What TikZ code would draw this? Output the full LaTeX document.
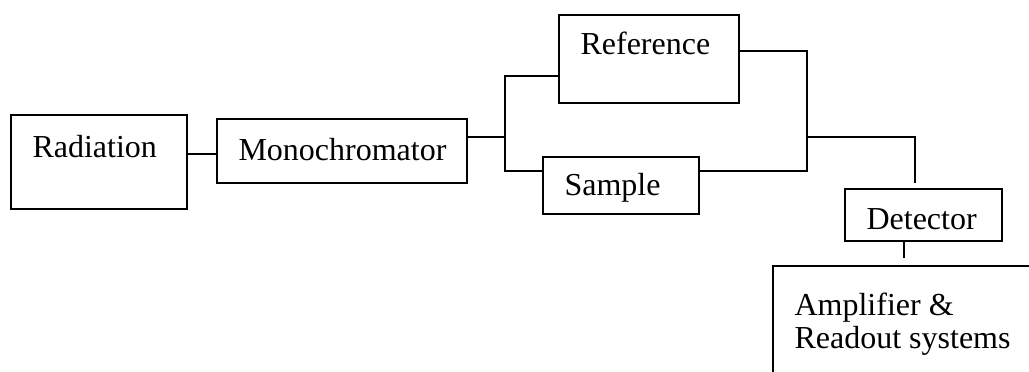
\documentclass[tikz,border=0pt]{standalone}
\usepackage{fontspec}
\setmainfont{Liberation Serif}
\usepackage{tikz}

\begin{document}
\begin{tikzpicture}[x=0.375pt,y=-0.375pt]
    \tikzset{block/.style={rectangle, draw, line width=0.75pt, inner sep=0pt},
             caption/.style={anchor=base west, inner sep=0pt, font=\fontsize{12}{14}\selectfont},
             wire/.style={line width=0.75pt}};
\useasboundingbox (0,0) rectangle (1029,371);
\clip (0,0) rectangle (1029,371);
%%
\node (rad) at (99,162) [block, minimum width=66pt, minimum height=35.25pt] {};
  \node (mono) at (342,151) [block, minimum width=93.75pt, minimum height=24pt] {};
  \node (ref) at (649,59) [block, minimum width=67.5pt, minimum height=33pt] {};
  \node (smp) at (621,185.5) [block, minimum width=58.5pt, minimum height=21.375pt] {};
  \node (det) at (923.5,215) [block, minimum width=58.875pt, minimum height=19.5pt] {};
  \node (amp) at (909,325.5) [block, minimum width=102pt, minimum height=44.625pt] {};

  \node (radtxt) at (32,157) [caption] {Radiation};
  \node (monotxt) at (238,160) [caption] {Monochromator};
  \node (reftxt) at (580,54) [caption] {Reference};
  \node (smptxt) at (564,195) [caption] {Sample};
  \node (dettxt) at (866,229) [caption] {Detector};
  \node (amptxt) at (794,315) [caption] {Amplifier \&};
  \node (outtxt) at (794,348) [caption] {Readout systems};

  \coordinate (split) at (505,137);
  \coordinate (busLt) at (505,76);
  \coordinate (busLb) at (505,171);
  \coordinate (busRt) at (807,51);
  \coordinate (busRb) at (807,171);
  \coordinate (join) at (807,137);
  \coordinate (detin) at (915,183);
  \coordinate (ampin) at (904,258);

  \draw [wire] (rad.east |- 0,154) -- (mono.west |- 0,154);
  \draw [wire] (mono.east |- split) -- (split);
  \draw [wire] (ref.west |- busLt) -- (busLt) -- (busLb) -- (smp.west |- busLb);
  \draw [wire] (ref.east |- busRt) -- (busRt) -- (busRb) -- (smp.east |- busRb);
  \draw [wire] (join) -| (detin);
  \draw [wire] (det.south -| ampin) -- (ampin);
  %
\end{tikzpicture}
\end{document}
